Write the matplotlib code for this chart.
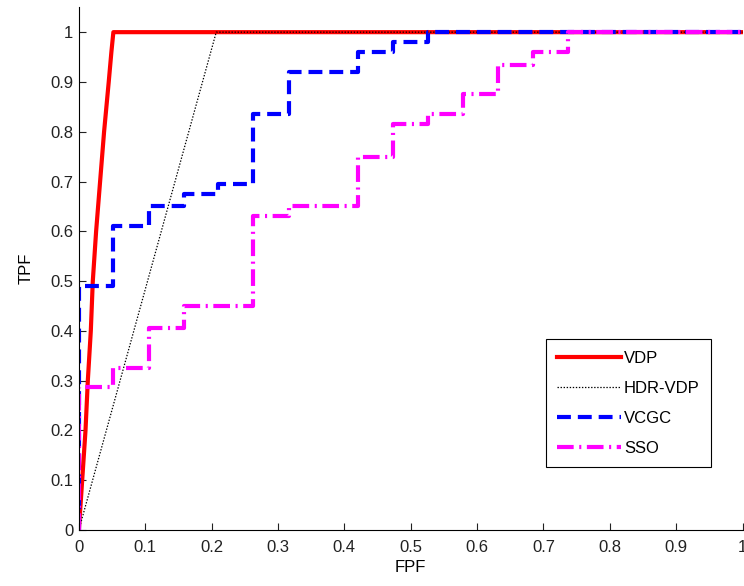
import matplotlib
matplotlib.use("Agg")
import matplotlib.pyplot as plt

plt.rcParams['font.family'] = ['Liberation Sans', 'DejaVu Sans']
plt.rcParams['lines.scale_dashes'] = False

# ROC data
vdp_fpf = [0.0, 0.005, 0.010, 0.0135, 0.018, 0.021, 0.026, 0.032, 0.038, 0.045, 0.049, 0.052, 1.0]
vdp_tpf = [0.0, 0.10, 0.20, 0.30, 0.40, 0.50, 0.60, 0.70, 0.80, 0.90, 0.96, 1.0, 1.0]

hdr_fpf = [0.0, 0.207, 1.0]
hdr_tpf = [0.0, 1.0, 1.0]

vcgc_fpf = [0.0, 0.0, 0.052, 0.105, 0.158, 0.21, 0.263, 0.316, 0.421, 0.474, 0.526, 1.0]
vcgc_tpf = [0.0, 0.49, 0.61, 0.65, 0.675, 0.695, 0.835, 0.92, 0.96, 0.98, 1.0, 1.0]

sso_fpf = [0.0, 0.0, 0.052, 0.105, 0.158, 0.263, 0.316, 0.421, 0.474, 0.526, 0.579,
           0.632, 0.684, 0.737, 1.0]
sso_tpf = [0.0, 0.287, 0.325, 0.405, 0.45, 0.63, 0.65, 0.75, 0.815, 0.835, 0.875,
           0.935, 0.96, 1.0, 1.0]

fig = plt.figure(figsize=(7.44, 5.86), dpi=100)
ax = fig.add_axes([0.106, 0.0956, 0.892, 0.892])

ax.plot(vdp_fpf, vdp_tpf, color='red', lw=3, label='VDP')
ax.plot(hdr_fpf, hdr_tpf, color='black', lw=0.9, dashes=(1, 1.2), label='HDR-VDP')
ax.step(vcgc_fpf, vcgc_tpf, where='post', color='blue', lw=3, dashes=(10, 5), label='VCGC')
ax.step(sso_fpf, sso_tpf, where='post', color='magenta', lw=3,
        dashes=(12, 4, 1.5, 4), label='SSO')

ax.set_xlim(0, 1)
ax.set_ylim(0, 1.05)
ax.set_xticks([i / 10 for i in range(11)])
ax.set_yticks([i / 10 for i in range(11)])
ax.set_xticklabels(['0', '0.1', '0.2', '0.3', '0.4', '0.5', '0.6', '0.7', '0.8', '0.9', '1'])
ax.set_yticklabels(['0', '0.1', '0.2', '0.3', '0.4', '0.5', '0.6', '0.7', '0.8', '0.9', '1'])
ax.tick_params(direction='in', length=5, labelsize=12, colors='#222222', pad=4)
ax.tick_params(axis='x', pad=7)
ax.spines['top'].set_visible(False)
ax.spines['right'].set_visible(False)
ax.set_xlabel('FPF', fontsize=12, labelpad=4)
ax.set_ylabel('TPF', fontsize=12, labelpad=12)

leg = ax.legend(loc='lower right', bbox_to_anchor=(0.953, 0.12), borderaxespad=0,
                fontsize=12, handlelength=3.8, handletextpad=0.2, fancybox=False,
                edgecolor='black', framealpha=1, labelspacing=0.9, borderpad=0.7)
leg.get_frame().set_linewidth(0.8)

fig.savefig('out.png', dpi=100)
